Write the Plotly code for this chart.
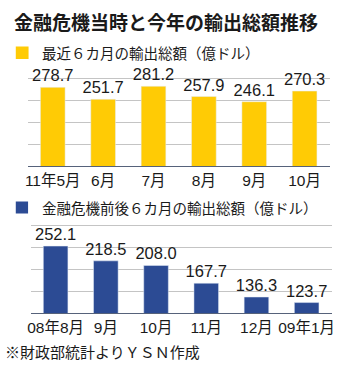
import plotly.graph_objects as go

# Exports (100 million USD)
recent_months = ["11年5月", "6月", "7月", "8月", "9月", "10月"]
recent_values = [278.7, 251.7, 281.2, 257.9, 246.1, 270.3]

crisis_months = ["08年8月", "9月", "10月", "11月", "12月", "09年1月"]
crisis_values = [252.1, 218.5, 208.0, 167.7, 136.3, 123.7]

grid_vals = [100, 150, 200, 250, 300]

W, H = 350, 365
FONT = "Noto Sans CJK JP, Liberation Sans, sans-serif"
NUM_FONT = "Liberation Sans, Noto Sans CJK JP, sans-serif"
YELLOW = "#FFCB05"
BLUE = "#2C4B94"
TEXT = "#1a1a1a"


def px_x(x):
    return x / W


def px_y(y):
    return 1 - y / H


fig = go.Figure()

fig.add_trace(go.Bar(
    x=recent_months, y=recent_values, marker_color=YELLOW, width=0.49,
    text=[f"{v:.1f}" for v in recent_values], textposition="outside",
    constraintext="none", textfont=dict(size=16.5, color=TEXT, family=NUM_FONT),
    xaxis="x", yaxis="y", showlegend=False, hoverinfo="skip",
))
fig.add_trace(go.Bar(
    x=crisis_months, y=crisis_values, marker_color=BLUE, width=0.49,
    text=[f"{v:.1f}" for v in crisis_values], textposition="outside",
    constraintext="none", textfont=dict(size=16.5, color=TEXT, family=NUM_FONT),
    xaxis="x2", yaxis="y2", showlegend=False, hoverinfo="skip",
))

y_lo, y_hi = 100, 340
scale = 0.44  # px per unit


def y_domain(base_px):
    top_px = base_px - (y_hi - y_lo) * scale
    return [px_y(base_px), px_y(top_px)]


axis_x = dict(type="category", showline=True, linecolor="#56627a", linewidth=1,
              ticks="", showgrid=False, zeroline=False,
              tickfont=dict(size=15.5, color=TEXT, family=NUM_FONT), fixedrange=True)
axis_y = dict(range=[y_lo, y_hi], tickvals=grid_vals, showticklabels=False,
              showgrid=True, gridcolor="#c4c4c4", gridwidth=1, zeroline=False,
              showline=False, ticks="", fixedrange=True)

fig.update_layout(
    width=W, height=H, margin=dict(l=0, r=0, t=0, b=0),
    paper_bgcolor="white", plot_bgcolor="rgba(0,0,0,0)",
    font=dict(family=FONT, color=TEXT),
    xaxis=dict(axis_x, domain=[px_x(25), px_x(332.5)], anchor="y"),
    yaxis=dict(axis_y, domain=y_domain(166), anchor="x"),
    xaxis2=dict(axis_x, domain=[px_x(28), px_x(334.5)], anchor="y2"),
    yaxis2=dict(axis_y, domain=y_domain(313), anchor="x2"),
    bargap=0.5,
)

# Title, legend keys and source note
fig.add_annotation(text="<b>金融危機当時と今年の輸出総額推移</b>", xref="paper", yref="paper",
                   x=px_x(9), y=px_y(21.5), xanchor="left", yanchor="middle",
                   showarrow=False, font=dict(size=19, color=TEXT, family=FONT))

fig.add_shape(type="rect", xref="paper", yref="paper",
              x0=px_x(13), x1=px_x(26), y0=px_y(59), y1=px_y(46.5),
              fillcolor=YELLOW, line_width=0)
fig.add_annotation(text="最近６カ月の輸出総額（億ドル）", xref="paper", yref="paper",
                   x=px_x(38), y=px_y(52.5), xanchor="left", yanchor="middle",
                   showarrow=False, font=dict(size=14.5, color=TEXT, family=FONT))

fig.add_shape(type="rect", xref="paper", yref="paper",
              x0=px_x(13), x1=px_x(25.5), y0=px_y(213.5), y1=px_y(201.5),
              fillcolor=BLUE, line_width=0)
fig.add_annotation(text="金融危機前後６カ月の輸出総額（億ドル）", xref="paper", yref="paper",
                   x=px_x(37.5), y=px_y(207.5), xanchor="left", yanchor="middle",
                   showarrow=False, font=dict(size=14.5, color=TEXT, family=FONT))

fig.add_annotation(text="※財政部統計よりＹＳＮ作成", xref="paper", yref="paper",
                   x=px_x(0), y=px_y(351.5), xanchor="left", yanchor="middle",
                   showarrow=False, font=dict(size=15, color=TEXT, family=FONT))

fig.write_html("out.html")
